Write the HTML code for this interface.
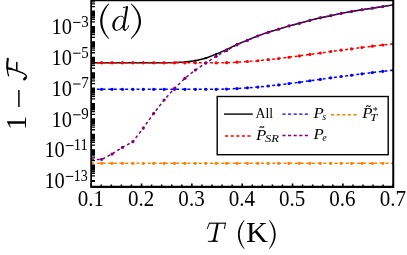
<!DOCTYPE html>
<html><head><meta charset="utf-8"><title>plot</title>
<style>html,body{margin:0;padding:0;background:#fff;}body{width:407px;height:255px;overflow:hidden;font-family:"Liberation Serif",serif;}svg{display:block;will-change:transform;}text{font-family:"Liberation Serif",serif;fill:#000;}</style></head><body>
<svg width="407" height="255" viewBox="0 0 407 255">
<rect x="0" y="0" width="407" height="255" fill="#fff"/>
<g clip-path="url(#cp)">
<clipPath id="cp"><rect x="91.2" y="0.55" width="302.0" height="186.29999999999998"/></clipPath>
<polyline points="91.20,62.67 101.61,62.67 112.03,62.67 122.44,62.67 132.86,62.67 143.27,62.67 153.68,62.67 164.10,62.65 174.51,62.53 184.92,62.06 195.34,60.74 205.75,58.20 216.17,54.12 226.58,49.57 236.99,44.31 247.41,40.12 257.82,35.83 268.23,32.19 278.65,29.12 289.06,25.84 299.48,23.25 309.89,20.36 320.30,17.77 330.72,15.67 341.13,13.37 351.54,11.47 361.96,9.73 372.37,8.18 382.79,6.58 393.20,4.88" fill="none" stroke="#000" stroke-width="1.45" stroke-linejoin="round"/>
<circle cx="91.20" cy="62.67" r="1.15" fill="#000"/>
<circle cx="101.61" cy="62.67" r="1.15" fill="#000"/>
<circle cx="112.03" cy="62.67" r="1.15" fill="#000"/>
<circle cx="122.44" cy="62.67" r="1.15" fill="#000"/>
<circle cx="132.86" cy="62.67" r="1.15" fill="#000"/>
<circle cx="143.27" cy="62.67" r="1.15" fill="#000"/>
<circle cx="153.68" cy="62.67" r="1.15" fill="#000"/>
<circle cx="164.10" cy="62.65" r="1.15" fill="#000"/>
<circle cx="174.51" cy="62.53" r="1.15" fill="#000"/>
<circle cx="184.92" cy="62.06" r="1.15" fill="#000"/>
<circle cx="195.34" cy="60.74" r="1.15" fill="#000"/>
<circle cx="205.75" cy="58.20" r="1.15" fill="#000"/>
<circle cx="216.17" cy="54.12" r="1.15" fill="#000"/>
<circle cx="226.58" cy="49.57" r="1.15" fill="#000"/>
<circle cx="236.99" cy="44.31" r="1.15" fill="#000"/>
<circle cx="247.41" cy="40.12" r="1.15" fill="#000"/>
<circle cx="257.82" cy="35.83" r="1.15" fill="#000"/>
<circle cx="268.23" cy="32.19" r="1.15" fill="#000"/>
<circle cx="278.65" cy="29.12" r="1.15" fill="#000"/>
<circle cx="289.06" cy="25.84" r="1.15" fill="#000"/>
<circle cx="299.48" cy="23.25" r="1.15" fill="#000"/>
<circle cx="309.89" cy="20.36" r="1.15" fill="#000"/>
<circle cx="320.30" cy="17.77" r="1.15" fill="#000"/>
<circle cx="330.72" cy="15.67" r="1.15" fill="#000"/>
<circle cx="341.13" cy="13.37" r="1.15" fill="#000"/>
<circle cx="351.54" cy="11.47" r="1.15" fill="#000"/>
<circle cx="361.96" cy="9.73" r="1.15" fill="#000"/>
<circle cx="372.37" cy="8.18" r="1.15" fill="#000"/>
<circle cx="382.79" cy="6.58" r="1.15" fill="#000"/>
<circle cx="393.20" cy="4.88" r="1.15" fill="#000"/>
<polyline points="91.20,62.80 101.61,62.80 112.03,62.80 122.44,62.80 132.86,62.80 143.27,62.80 153.68,62.80 164.10,62.80 174.51,62.80 184.92,62.80 195.34,62.80 205.75,62.80 216.17,62.80 226.58,62.70 236.99,62.20 247.41,61.50 257.82,60.75 268.23,59.65 278.65,58.55 289.06,57.25 299.48,55.90 309.89,54.40 320.30,53.10 330.72,51.50 341.13,50.15 351.54,48.90 361.96,47.50 372.37,46.20 382.79,45.00 393.20,43.80" fill="none" stroke="#ff0000" stroke-width="1.5" stroke-dasharray="3 2.66" stroke-linejoin="round"/>
<circle cx="91.20" cy="62.80" r="1.6" fill="#ff0000"/>
<circle cx="101.61" cy="62.80" r="1.6" fill="#ff0000"/>
<circle cx="112.03" cy="62.80" r="1.6" fill="#ff0000"/>
<circle cx="122.44" cy="62.80" r="1.6" fill="#ff0000"/>
<circle cx="132.86" cy="62.80" r="1.6" fill="#ff0000"/>
<circle cx="143.27" cy="62.80" r="1.6" fill="#ff0000"/>
<circle cx="153.68" cy="62.80" r="1.6" fill="#ff0000"/>
<circle cx="164.10" cy="62.80" r="1.6" fill="#ff0000"/>
<circle cx="174.51" cy="62.80" r="1.6" fill="#ff0000"/>
<circle cx="184.92" cy="62.80" r="1.6" fill="#ff0000"/>
<circle cx="195.34" cy="62.80" r="1.6" fill="#ff0000"/>
<circle cx="205.75" cy="62.80" r="1.6" fill="#ff0000"/>
<circle cx="216.17" cy="62.80" r="1.6" fill="#ff0000"/>
<circle cx="226.58" cy="62.70" r="1.6" fill="#ff0000"/>
<circle cx="236.99" cy="62.20" r="1.6" fill="#ff0000"/>
<circle cx="247.41" cy="61.50" r="1.6" fill="#ff0000"/>
<circle cx="257.82" cy="60.75" r="1.6" fill="#ff0000"/>
<circle cx="268.23" cy="59.65" r="1.6" fill="#ff0000"/>
<circle cx="278.65" cy="58.55" r="1.6" fill="#ff0000"/>
<circle cx="289.06" cy="57.25" r="1.6" fill="#ff0000"/>
<circle cx="299.48" cy="55.90" r="1.6" fill="#ff0000"/>
<circle cx="309.89" cy="54.40" r="1.6" fill="#ff0000"/>
<circle cx="320.30" cy="53.10" r="1.6" fill="#ff0000"/>
<circle cx="330.72" cy="51.50" r="1.6" fill="#ff0000"/>
<circle cx="341.13" cy="50.15" r="1.6" fill="#ff0000"/>
<circle cx="351.54" cy="48.90" r="1.6" fill="#ff0000"/>
<circle cx="361.96" cy="47.50" r="1.6" fill="#ff0000"/>
<circle cx="372.37" cy="46.20" r="1.6" fill="#ff0000"/>
<circle cx="382.79" cy="45.00" r="1.6" fill="#ff0000"/>
<circle cx="393.20" cy="43.80" r="1.6" fill="#ff0000"/>
<polyline points="91.20,89.30 101.61,89.30 112.03,89.30 122.44,89.30 132.86,89.30 143.27,89.30 153.68,89.30 164.10,89.30 174.51,89.30 184.92,89.30 195.34,89.30 205.75,89.30 216.17,89.30 226.58,89.05 236.99,88.55 247.41,87.85 257.82,87.10 268.23,86.00 278.65,84.90 289.06,83.60 299.48,82.25 309.89,80.75 320.30,79.45 330.72,77.85 341.13,76.50 351.54,75.25 361.96,73.85 372.37,72.55 382.79,71.35 393.20,70.15" fill="none" stroke="#0000ff" stroke-width="1.5" stroke-dasharray="3 2.66" stroke-linejoin="round"/>
<circle cx="91.20" cy="89.30" r="1.6" fill="#0000ff"/>
<circle cx="101.61" cy="89.30" r="1.6" fill="#0000ff"/>
<circle cx="112.03" cy="89.30" r="1.6" fill="#0000ff"/>
<circle cx="122.44" cy="89.30" r="1.6" fill="#0000ff"/>
<circle cx="132.86" cy="89.30" r="1.6" fill="#0000ff"/>
<circle cx="143.27" cy="89.30" r="1.6" fill="#0000ff"/>
<circle cx="153.68" cy="89.30" r="1.6" fill="#0000ff"/>
<circle cx="164.10" cy="89.30" r="1.6" fill="#0000ff"/>
<circle cx="174.51" cy="89.30" r="1.6" fill="#0000ff"/>
<circle cx="184.92" cy="89.30" r="1.6" fill="#0000ff"/>
<circle cx="195.34" cy="89.30" r="1.6" fill="#0000ff"/>
<circle cx="205.75" cy="89.30" r="1.6" fill="#0000ff"/>
<circle cx="216.17" cy="89.30" r="1.6" fill="#0000ff"/>
<circle cx="226.58" cy="89.05" r="1.6" fill="#0000ff"/>
<circle cx="236.99" cy="88.55" r="1.6" fill="#0000ff"/>
<circle cx="247.41" cy="87.85" r="1.6" fill="#0000ff"/>
<circle cx="257.82" cy="87.10" r="1.6" fill="#0000ff"/>
<circle cx="268.23" cy="86.00" r="1.6" fill="#0000ff"/>
<circle cx="278.65" cy="84.90" r="1.6" fill="#0000ff"/>
<circle cx="289.06" cy="83.60" r="1.6" fill="#0000ff"/>
<circle cx="299.48" cy="82.25" r="1.6" fill="#0000ff"/>
<circle cx="309.89" cy="80.75" r="1.6" fill="#0000ff"/>
<circle cx="320.30" cy="79.45" r="1.6" fill="#0000ff"/>
<circle cx="330.72" cy="77.85" r="1.6" fill="#0000ff"/>
<circle cx="341.13" cy="76.50" r="1.6" fill="#0000ff"/>
<circle cx="351.54" cy="75.25" r="1.6" fill="#0000ff"/>
<circle cx="361.96" cy="73.85" r="1.6" fill="#0000ff"/>
<circle cx="372.37" cy="72.55" r="1.6" fill="#0000ff"/>
<circle cx="382.79" cy="71.35" r="1.6" fill="#0000ff"/>
<circle cx="393.20" cy="70.15" r="1.6" fill="#0000ff"/>
<polyline points="91.20,159.80 101.61,159.30 112.03,154.05 122.44,147.40 132.86,141.70 143.27,128.05 153.68,113.40 164.10,100.00 174.51,88.30 184.92,78.30 195.34,70.00 205.75,63.00 216.17,56.30 226.58,50.60 236.99,44.80 247.41,40.40 257.82,36.00 268.23,32.30 278.65,29.20 289.06,25.90 299.48,23.30 309.89,20.40 320.30,17.80 330.72,15.70 341.13,13.40 351.54,11.50 361.96,9.75 372.37,8.20 382.79,6.60 393.20,4.90" fill="none" stroke="#800080" stroke-width="1.5" stroke-dasharray="3 2.66" stroke-linejoin="round"/>
<circle cx="91.20" cy="159.80" r="1.6" fill="#800080"/>
<circle cx="101.61" cy="159.30" r="1.6" fill="#800080"/>
<circle cx="112.03" cy="154.05" r="1.6" fill="#800080"/>
<circle cx="122.44" cy="147.40" r="1.6" fill="#800080"/>
<circle cx="132.86" cy="141.70" r="1.6" fill="#800080"/>
<circle cx="143.27" cy="128.05" r="1.6" fill="#800080"/>
<circle cx="153.68" cy="113.40" r="1.6" fill="#800080"/>
<circle cx="164.10" cy="100.00" r="1.6" fill="#800080"/>
<circle cx="174.51" cy="88.30" r="1.6" fill="#800080"/>
<circle cx="184.92" cy="78.30" r="1.6" fill="#800080"/>
<circle cx="195.34" cy="70.00" r="1.6" fill="#800080"/>
<circle cx="205.75" cy="63.00" r="1.6" fill="#800080"/>
<circle cx="216.17" cy="56.30" r="1.6" fill="#800080"/>
<circle cx="226.58" cy="50.60" r="1.6" fill="#800080"/>
<circle cx="236.99" cy="44.80" r="1.6" fill="#800080"/>
<circle cx="247.41" cy="40.40" r="1.6" fill="#800080"/>
<circle cx="257.82" cy="36.00" r="1.6" fill="#800080"/>
<circle cx="268.23" cy="32.30" r="1.6" fill="#800080"/>
<circle cx="278.65" cy="29.20" r="1.6" fill="#800080"/>
<circle cx="289.06" cy="25.90" r="1.6" fill="#800080"/>
<circle cx="299.48" cy="23.30" r="1.6" fill="#800080"/>
<circle cx="309.89" cy="20.40" r="1.6" fill="#800080"/>
<circle cx="320.30" cy="17.80" r="1.6" fill="#800080"/>
<circle cx="330.72" cy="15.70" r="1.6" fill="#800080"/>
<circle cx="341.13" cy="13.40" r="1.6" fill="#800080"/>
<circle cx="351.54" cy="11.50" r="1.6" fill="#800080"/>
<circle cx="361.96" cy="9.75" r="1.6" fill="#800080"/>
<circle cx="372.37" cy="8.20" r="1.6" fill="#800080"/>
<circle cx="382.79" cy="6.60" r="1.6" fill="#800080"/>
<circle cx="393.20" cy="4.90" r="1.6" fill="#800080"/>
<polyline points="91.20,163.30 101.61,163.30 112.03,163.30 122.44,163.30 132.86,163.30 143.27,163.30 153.68,163.30 164.10,163.30 174.51,163.30 184.92,163.30 195.34,163.30 205.75,163.30 216.17,163.30 226.58,163.30 236.99,163.30 247.41,163.30 257.82,163.30 268.23,163.30 278.65,163.30 289.06,163.30 299.48,163.30 309.89,163.30 320.30,163.30 330.72,163.30 341.13,163.30 351.54,163.30 361.96,163.30 372.37,163.30 382.79,163.30 393.20,163.30" fill="none" stroke="#ff8000" stroke-width="1.5" stroke-dasharray="3 2.66" stroke-linejoin="round"/>
<circle cx="91.20" cy="163.30" r="1.6" fill="#ff8000"/>
<circle cx="101.61" cy="163.30" r="1.6" fill="#ff8000"/>
<circle cx="112.03" cy="163.30" r="1.6" fill="#ff8000"/>
<circle cx="122.44" cy="163.30" r="1.6" fill="#ff8000"/>
<circle cx="132.86" cy="163.30" r="1.6" fill="#ff8000"/>
<circle cx="143.27" cy="163.30" r="1.6" fill="#ff8000"/>
<circle cx="153.68" cy="163.30" r="1.6" fill="#ff8000"/>
<circle cx="164.10" cy="163.30" r="1.6" fill="#ff8000"/>
<circle cx="174.51" cy="163.30" r="1.6" fill="#ff8000"/>
<circle cx="184.92" cy="163.30" r="1.6" fill="#ff8000"/>
<circle cx="195.34" cy="163.30" r="1.6" fill="#ff8000"/>
<circle cx="205.75" cy="163.30" r="1.6" fill="#ff8000"/>
<circle cx="216.17" cy="163.30" r="1.6" fill="#ff8000"/>
<circle cx="226.58" cy="163.30" r="1.6" fill="#ff8000"/>
<circle cx="236.99" cy="163.30" r="1.6" fill="#ff8000"/>
<circle cx="247.41" cy="163.30" r="1.6" fill="#ff8000"/>
<circle cx="257.82" cy="163.30" r="1.6" fill="#ff8000"/>
<circle cx="268.23" cy="163.30" r="1.6" fill="#ff8000"/>
<circle cx="278.65" cy="163.30" r="1.6" fill="#ff8000"/>
<circle cx="289.06" cy="163.30" r="1.6" fill="#ff8000"/>
<circle cx="299.48" cy="163.30" r="1.6" fill="#ff8000"/>
<circle cx="309.89" cy="163.30" r="1.6" fill="#ff8000"/>
<circle cx="320.30" cy="163.30" r="1.6" fill="#ff8000"/>
<circle cx="330.72" cy="163.30" r="1.6" fill="#ff8000"/>
<circle cx="341.13" cy="163.30" r="1.6" fill="#ff8000"/>
<circle cx="351.54" cy="163.30" r="1.6" fill="#ff8000"/>
<circle cx="361.96" cy="163.30" r="1.6" fill="#ff8000"/>
<circle cx="372.37" cy="163.30" r="1.6" fill="#ff8000"/>
<circle cx="382.79" cy="163.30" r="1.6" fill="#ff8000"/>
<circle cx="393.20" cy="163.30" r="1.6" fill="#ff8000"/>
</g>
<path d="M91.2 181.30H95 M91.2 180.60H95 M91.2 175.96H95 M91.2 173.25H95 M91.2 171.33H95 M91.2 169.84H95 M91.2 168.62H95 M91.2 167.59H95 M91.2 166.69H95 M91.2 165.90H95 M91.2 165.20H95 M91.2 160.56H95 M91.2 157.85H95 M91.2 155.93H95 M91.2 154.44H95 M91.2 153.22H95 M91.2 152.19H95 M91.2 151.29H95 M91.2 150.50H95 M91.2 149.80H95 M91.2 145.16H95 M91.2 142.45H95 M91.2 140.53H95 M91.2 139.04H95 M91.2 137.82H95 M91.2 136.79H95 M91.2 135.89H95 M91.2 135.10H95 M91.2 134.40H95 M91.2 129.76H95 M91.2 127.05H95 M91.2 125.13H95 M91.2 123.64H95 M91.2 122.42H95 M91.2 121.39H95 M91.2 120.49H95 M91.2 119.70H95 M91.2 119.00H95 M91.2 114.36H95 M91.2 111.65H95 M91.2 109.73H95 M91.2 108.24H95 M91.2 107.02H95 M91.2 105.99H95 M91.2 105.09H95 M91.2 104.30H95 M91.2 103.60H95 M91.2 98.96H95 M91.2 96.25H95 M91.2 94.33H95 M91.2 92.84H95 M91.2 91.62H95 M91.2 90.59H95 M91.2 89.69H95 M91.2 88.90H95 M91.2 88.20H95 M91.2 83.56H95 M91.2 80.85H95 M91.2 78.93H95 M91.2 77.44H95 M91.2 76.22H95 M91.2 75.19H95 M91.2 74.29H95 M91.2 73.50H95 M91.2 72.80H95 M91.2 68.16H95 M91.2 65.45H95 M91.2 63.53H95 M91.2 62.04H95 M91.2 60.82H95 M91.2 59.79H95 M91.2 58.89H95 M91.2 58.10H95 M91.2 57.40H95 M91.2 52.76H95 M91.2 50.05H95 M91.2 48.13H95 M91.2 46.64H95 M91.2 45.42H95 M91.2 44.39H95 M91.2 43.49H95 M91.2 42.70H95 M91.2 42.00H95 M91.2 37.36H95 M91.2 34.65H95 M91.2 32.73H95 M91.2 31.24H95 M91.2 30.02H95 M91.2 28.99H95 M91.2 28.09H95 M91.2 27.30H95 M91.2 26.60H95 M91.2 21.96H95 M91.2 19.25H95 M91.2 17.33H95 M91.2 15.84H95 M91.2 14.62H95 M91.2 13.59H95 M91.2 12.69H95 M91.2 11.90H95 M91.2 11.20H95 M91.2 6.56H95 M91.2 3.85H95 M91.2 1.93H95" stroke="#000" stroke-width="1.3" fill="none"/>
<path d="M91.20 186.85V183.4 M141.53 186.85V183.4 M191.86 186.85V183.4 M242.19 186.85V183.4 M292.52 186.85V183.4 M342.85 186.85V183.4 M393.18 186.85V183.4" stroke="#000" stroke-width="1.6" fill="none"/>
<path d="M101.27 186.85V184.45 M111.33 186.85V184.45 M121.40 186.85V184.45 M131.46 186.85V184.45 M151.60 186.85V184.45 M161.66 186.85V184.45 M171.73 186.85V184.45 M181.79 186.85V184.45 M201.93 186.85V184.45 M211.99 186.85V184.45 M222.06 186.85V184.45 M232.12 186.85V184.45 M252.26 186.85V184.45 M262.32 186.85V184.45 M272.39 186.85V184.45 M282.45 186.85V184.45 M302.59 186.85V184.45 M312.65 186.85V184.45 M322.72 186.85V184.45 M332.78 186.85V184.45 M352.92 186.85V184.45 M362.98 186.85V184.45 M373.05 186.85V184.45 M383.11 186.85V184.45" stroke="#000" stroke-width="1.5" fill="none"/>
<path d="M90.3 0H92V187.9H90.3Z M392.25 0H394.25V187.9H392.25Z M90.3 0H394.25V1.35H90.3Z M90.3 185.85H394.25V187.9H90.3Z" fill="#000"/>
<text x="77.70" y="205.75" font-size="22.4" textLength="26.3" lengthAdjust="spacingAndGlyphs">0.1</text>
<text x="128.03" y="205.75" font-size="22.4" textLength="26.3" lengthAdjust="spacingAndGlyphs">0.2</text>
<text x="178.36" y="205.75" font-size="22.4" textLength="26.3" lengthAdjust="spacingAndGlyphs">0.3</text>
<text x="228.69" y="205.75" font-size="22.4" textLength="26.3" lengthAdjust="spacingAndGlyphs">0.4</text>
<text x="279.02" y="205.75" font-size="22.4" textLength="26.3" lengthAdjust="spacingAndGlyphs">0.5</text>
<text x="329.35" y="205.75" font-size="22.4" textLength="26.3" lengthAdjust="spacingAndGlyphs">0.6</text>
<text x="379.68" y="205.75" font-size="22.4" textLength="26.3" lengthAdjust="spacingAndGlyphs">0.7</text>
<text x="51.6" y="34.10" font-size="22.4" textLength="20.4" lengthAdjust="spacingAndGlyphs">10</text>
<path d="M73.1 22.40h7.5" stroke="#000" stroke-width="1.0"/>
<text x="81.3" y="26.70" font-size="16" textLength="7.5" lengthAdjust="spacingAndGlyphs">3</text>
<text x="51.6" y="64.90" font-size="22.4" textLength="20.4" lengthAdjust="spacingAndGlyphs">10</text>
<path d="M73.1 53.20h7.5" stroke="#000" stroke-width="1.0"/>
<text x="81.3" y="57.50" font-size="16" textLength="7.5" lengthAdjust="spacingAndGlyphs">5</text>
<text x="51.6" y="95.70" font-size="22.4" textLength="20.4" lengthAdjust="spacingAndGlyphs">10</text>
<path d="M73.1 84.00h7.5" stroke="#000" stroke-width="1.0"/>
<text x="81.3" y="88.30" font-size="16" textLength="7.5" lengthAdjust="spacingAndGlyphs">7</text>
<text x="51.6" y="126.50" font-size="22.4" textLength="20.4" lengthAdjust="spacingAndGlyphs">10</text>
<path d="M73.1 114.80h7.5" stroke="#000" stroke-width="1.0"/>
<text x="81.3" y="119.10" font-size="16" textLength="7.5" lengthAdjust="spacingAndGlyphs">9</text>
<text x="44.4" y="157.30" font-size="22.4" textLength="20.4" lengthAdjust="spacingAndGlyphs">10</text>
<path d="M65.9 145.60h7.5" stroke="#000" stroke-width="1.0"/>
<text x="73.8" y="149.90" font-size="16" textLength="14.0" lengthAdjust="spacingAndGlyphs">11</text>
<text x="44.4" y="188.10" font-size="22.4" textLength="20.4" lengthAdjust="spacingAndGlyphs">10</text>
<path d="M65.9 176.40h7.5" stroke="#000" stroke-width="1.0"/>
<text x="73.8" y="180.70" font-size="16" textLength="14.0" lengthAdjust="spacingAndGlyphs">13</text>
<rect x="217.2" y="96.5" width="171" height="58.2" fill="#fff" stroke="#000" stroke-width="1.4"/>
<path d="M224 114.1H252.8" stroke="#000" stroke-width="1.4"/>
<path d="M225 136.0H250.7" stroke="#ff0000" stroke-width="1.4" stroke-dasharray="3.2 2.4"/>
<path d="M282.4 114.1H308.09999999999997" stroke="#0000ff" stroke-width="1.4" stroke-dasharray="3.2 2.4"/>
<path d="M282.4 135.5H308.09999999999997" stroke="#800080" stroke-width="1.4" stroke-dasharray="3.2 2.4"/>
<path d="M331 114.8H356.7" stroke="#ff8000" stroke-width="1.4" stroke-dasharray="3.2 2.4"/>
<text x="255.6" y="117.6" font-size="15.2" textLength="17.6" lengthAdjust="spacingAndGlyphs">All</text>
<text x="256" y="139.8" font-size="15.3" font-style="italic" textLength="10.3" lengthAdjust="spacingAndGlyphs">P</text>
<text x="265.0" y="141.8" font-size="10.6" font-style="italic" textLength="14.0" lengthAdjust="spacingAndGlyphs">SR</text>
<path d="M259.7 127.6q1.1 -1.5 2.2 -0.6t2.2 -0.6" fill="none" stroke="#000" stroke-width="1.05"/>
<text x="313.6" y="117.5" font-size="15.3" font-style="italic" textLength="10.3" lengthAdjust="spacingAndGlyphs">P</text>
<text x="322.2" y="119.6" font-size="10" font-style="italic">s</text>
<text x="313.6" y="139.2" font-size="15.3" font-style="italic" textLength="10.3" lengthAdjust="spacingAndGlyphs">P</text>
<text x="322.2" y="141.3" font-size="10" font-style="italic">e</text>
<text x="362.3" y="117.5" font-size="15.3" font-style="italic" textLength="10.3" lengthAdjust="spacingAndGlyphs">P</text>
<text x="370.1" y="121.4" font-size="10.2" font-style="italic" textLength="7.4" lengthAdjust="spacingAndGlyphs">T</text>
<text x="372.7" y="114.0" font-size="10">*</text>
<path d="M366.3 106.69999999999999q1.1 -1.5 2.2 -0.6t2.2 -0.6" fill="none" stroke="#000" stroke-width="1.05"/>
<path d="M108.60 3.60 C103.39 8.38 100.20 14.57 100.20 21.30 C100.20 28.03 103.39 34.22 108.60 39.00 L109.10 38.50 C105.26 33.72 102.40 28.03 102.40 21.30 C102.40 14.57 105.26 8.88 109.10 4.10Z" fill="#000"/>
<path d="M131.20 3.60 C137.28 8.38 141.00 14.57 141.00 21.30 C141.00 28.03 137.28 34.22 131.20 39.00 L130.70 38.50 C135.41 33.72 138.80 28.03 138.80 21.30 C138.80 14.57 135.41 8.88 130.70 4.10Z" fill="#000"/>
<g fill="none" stroke="#000" stroke-linecap="round" stroke-linejoin="round"><path d="M127.0 7.2L123.65 27.6" stroke-width="2.1"/><path d="M123.65 27.4C123.2 30.3 125.0 30.9 126.3 29.7C127.6 28.5 128.2 27.2 128.7 25.6" stroke-width="1.0"/><path d="M123.65 26.5C123.3 29.5 124.3 30.3 125.2 30.0" stroke-width="1.5"/><path d="M123.3 7.5L127.6 6.7" stroke-width="0.9"/><path d="M121 15.7C117 15.7 112.3 20.5 112.3 25.3C112.3 28.8 114.3 30.8 116.9 30.8C119.8 30.8 122 28.6 123.6 25.8L124.6 19.5C124 17.3 122.8 15.7 121 15.7Z M120.8 16.6C118.3 16.6 114.8 21 114.7 26C114.7 28.6 115.6 29.95 117.1 29.95C119.3 29.95 121.7 27.2 122.9 24.5L123.9 19.4C123.3 17.6 122.3 16.6 120.8 16.6Z" fill="#000" fill-rule="evenodd" stroke="none"/></g>
<g fill="none" stroke="#000" stroke-linecap="butt"><path d="M209.0 223.2H225.9" stroke-width="1.15"/><path d="M209.5 222.9C208.7 224.9 207.9 226.9 207.3 228.9" stroke-width="1.0"/><path d="M225.5 222.9C225.2 225 224.8 227 224.4 228.9" stroke-width="1.0"/><path d="M217.65 223.2L213.95 241.2" stroke-width="2.2"/><path d="M207.9 241.35H217.9" stroke-width="1.0"/><path d="M211.2 241.2C212.4 241 212.9 240.6 213.2 239.6M216.6 241.2C215.6 241 215.1 240.6 214.9 239.8" stroke-width="0.8"/></g>
<text x="246.1" y="241.5" font-size="29.4" textLength="22.0" lengthAdjust="spacingAndGlyphs">K</text>
<path d="M244.00 220.00 C240.22 223.91 237.90 228.99 237.90 234.50 C237.90 240.01 240.22 245.09 244.00 249.00 L244.50 248.50 C241.83 244.59 239.70 240.01 239.70 234.50 C239.70 228.99 241.83 224.41 244.50 220.50Z" fill="#000"/>
<path d="M269.60 220.00 C273.38 223.91 275.70 228.99 275.70 234.50 C275.70 240.01 273.38 245.09 269.60 249.00 L269.10 248.50 C271.77 244.59 273.90 240.01 273.90 234.50 C273.90 228.99 271.77 224.41 269.10 220.50Z" fill="#000"/>
<g transform="translate(26.0,129.9) rotate(-90)"><text x="0" y="0" font-size="28.6">1</text></g>
<path d="M18.9 90.1V106.9" stroke="#000" stroke-width="1.5"/>
<g fill="none" stroke="#000" stroke-linecap="round"><path d="M7.8 58.6C7.3 62 7.1 66 7.3 69.5C7.5 72 7.9 74 8.6 75.8" stroke-width="1.25"/><path d="M7.75 58.7C7.35 62 7.2 65 7.3 68.5" stroke-width="2.0"/><path d="M7.7 68.4C12 68.9 18 70.8 22.3 72.9C24.8 74.1 26.4 75.2 26.4 76.5C26.4 77.7 25.7 78.4 24.9 79.0" stroke-width="1.5"/><path d="M7.6 68.3C9 68.4 10.5 68.6 12 68.9" stroke-width="2.0"/><path d="M16.8 62.4V70.2" stroke-width="1.55"/></g>
<ellipse cx="24.75" cy="78.6" rx="1.35" ry="2.0" transform="rotate(38 24.75 78.6)" fill="#000"/>
</svg></body></html>
